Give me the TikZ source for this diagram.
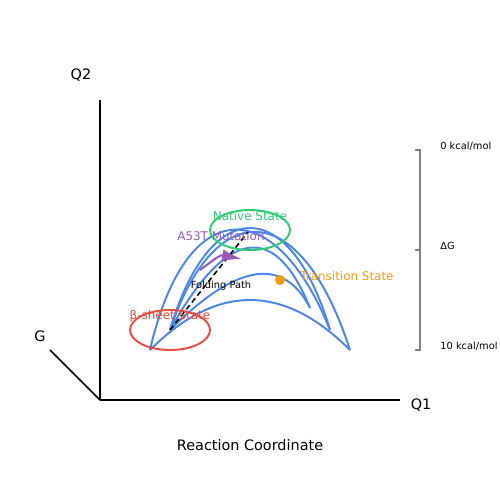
\documentclass[tikz,border=0pt]{standalone}
\usepackage{fontspec}
\setmainfont{DejaVu Sans}
\usetikzlibrary{arrows.meta}
\definecolor{pathblue}{HTML}{4A86E8}
\definecolor{nativegreen}{HTML}{2ECC71}
\definecolor{sheetred}{HTML}{E74C3C}
\definecolor{tsorange}{HTML}{F39C12}
\definecolor{mutpurple}{HTML}{9B59B6}
\tikzstyle{axis}=[draw=black,line width=1pt]
\tikzstyle{route}=[draw=pathblue,line width=1.1pt]
\tikzstyle{basin}=[line width=1.1pt]
\tikzstyle{tag}=[inner sep=0pt,font=\fontsize{6.8}{8}\selectfont]
\tikzstyle{small}=[inner sep=0pt,font=\fontsize{5.6}{6.5}\selectfont]

\begin{document}
\begin{tikzpicture}[font=\fontsize{8.2}{9.5}\selectfont]
\useasboundingbox (-2,-2) rectangle (8,8);
% axes
\coordinate (o) at (0,0);
\coordinate (q1) at (6,0);
\coordinate (q2) at (0,6);
\coordinate (g) at (-1,1);
\draw[axis] (o) -- (q1);
\draw[axis] (o) -- (q2);
\draw[axis] (o) -- (g);
\node[inner sep=0pt] (q1l) at (6.42,-0.1) {Q1};
\node[inner sep=0pt] (q2l) at (-0.38,6.5) {Q2};
\node[inner sep=0pt] (gl) at (-1.2,1.28) {G};
\node[inner sep=0pt] (rc) at (3,-0.9) {Reaction Coordinate};

% end points of the paths
\coordinate (l1) at (1,1);
\coordinate (l2) at (1.4,1.4);
\coordinate (r1) at (5,1);
\coordinate (r2) at (4.6,1.4);
\coordinate (r3) at (4.2,1.84);
\coordinate (top) at (2.96,3.36);

% energy paths
\draw[route] (l1) .. controls (2.333,2.333) and (3.667,2.333) .. (r1);
\draw[route] (l2) .. controls (2.733,2.733) and (3.667,2.88) .. (r3);
\draw[route] (l1) .. controls (1.72,4.14) and (3.5,4.14) .. (r2);
\draw[route] (l2) .. controls (2.3,4.08) and (4,4.08) .. (r1);
\draw[route] (l2) .. controls (2.2,4.12) and (3.8,4.12) .. (r2);
\draw[route] (l2) .. controls (2.58,3.52) and (3.52,3.52) .. (r3);

% states
\draw[basin,draw=nativegreen] (3,3.4) ellipse (0.8 and 0.4);
\draw[basin,draw=sheetred] (1.4,1.4) ellipse (0.8 and 0.4);
\node[circle,fill=tsorange,inner sep=0pt,minimum size=0.2cm] (ts) at (3.6,2.4) {};
\draw[black,line width=0.9pt,dash pattern=on 3pt off 2pt] (l2) -- (top);
\coordinate (m1) at (2,2.6);
\coordinate (m2) at (2.84,2.82);
\draw[mutpurple,line width=1.2pt,-{Latex[length=0.4cm,width=0.24cm]}] (m1) .. controls (2.4,2.9) .. (m2);

\node[tag,text=nativegreen] (nl) at (3,3.68) {Native State};
\node[tag,text=mutpurple] (ml) at (2.42,3.28) {A53T Mutation};
\node[tag,text=sheetred] (bl) at (1.4,1.68) {β-sheet State};
\node[tag,text=tsorange,anchor=west] (tl) at (4,2.48) {Transition State};
\node[small] (fp) at (2.42,2.28) {Folding Path};

% energy scale
\coordinate (e0) at (6.4,5);
\coordinate (e1) at (6.4,3);
\coordinate (e2) at (6.4,1);
\draw[gray,line width=0.9pt] ([xshift=-0.1cm] e0) -- (e0) -- (e2) -- ([xshift=-0.1cm] e2);
\draw[gray,line width=0.9pt] ([xshift=-0.1cm] e1) -- (e1);
\node[small,anchor=west] (k0) at (6.8,5.08) {0 kcal/mol};
\node[small,anchor=west] (dg) at (6.8,3.08) {ΔG};
\node[small,anchor=west] (k1) at (6.8,1.08) {10 kcal/mol};
\end{tikzpicture}
\end{document}
